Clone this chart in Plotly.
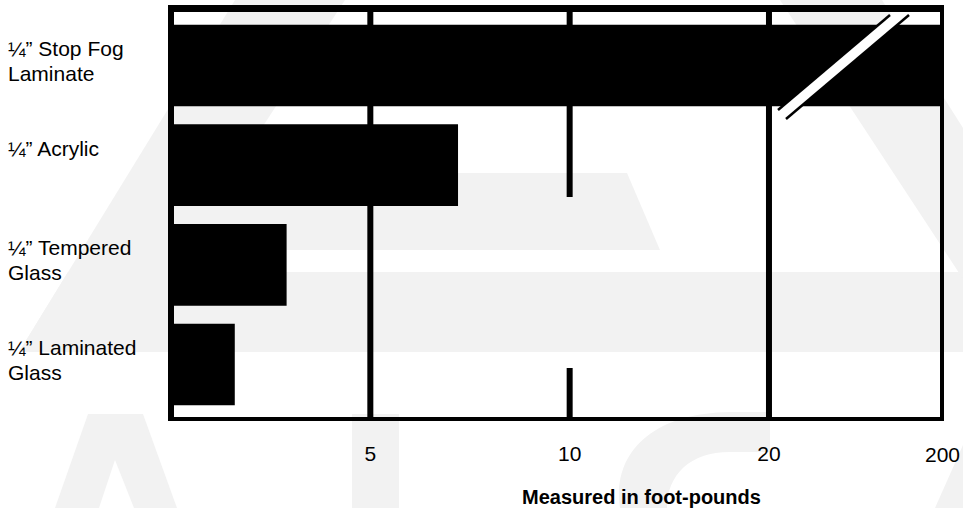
import numpy as np
import plotly.graph_objects as go

# ---------------- data ----------------
categories = ["¼” Stop Fog<br>Laminate", "¼” Acrylic", "¼” Tempered<br>Glass", "¼” Laminated<br>Glass"]
values = [200, 7.2, 2.9, 1.6]          # Stop Fog runs off the end of the (broken) scale
tick_values = [0, 5, 10, 20, 200]
tick_labels = ["", "5", "10", "20", "200"]
x_title = "Measured in foot-pounds"

# ---------------- broken (piecewise) scale ----------------
SEG_POS = [0, 1, 2, 3, 3.868]           # equal-width segments, last one shorter


def scale(v):
    return np.interp(v, tick_values, SEG_POS)


# ---------------- geometry ----------------
W, H = 963, 508
ML, MR, MT, MB = 171, 21, 9, 89
PL, PR, PT, PB = ML, W - MR, MT, H - MB
PW, PH = PR - PL, PB - PT
FONT = "Liberation Sans, Arial, Helvetica, sans-serif"
WM = "#f2f2f2"


def px(x):
    return (x - PL) / PW


def py(y):
    return (PB - y) / PH


def poly(points):
    return "M " + " L ".join(f"{px(x):.5f},{py(y):.5f}" for x, y in points) + " Z"


shapes = []
# faint watermark (logo) behind the chart
for pts in [
    [(235, 0), (345, 0), (116, 352), (19, 352)],
    [(230, 173), (627, 173), (660, 250), (175, 250)],
    [(68, 272), (963, 272), (963, 352), (19, 352)],
    [(780, 0), (882, 0), (963, 128), (963, 279)],
    [(88, 414), (143, 414), (177, 508), (55, 508)],
    [(352, 414), (399, 414), (399, 508), (352, 508)],
    [(963, 445), (963, 508), (935, 508)],
]:
    shapes.append(dict(type="path", xref="paper", yref="paper", path=poly(pts),
                       fillcolor=WM, line=dict(width=0), layer="below"))
shapes.append(dict(type="path", xref="paper", yref="paper",
                   path=poly([(115, 460), (134, 508), (99, 508)]),
                   fillcolor="white", line=dict(width=0), layer="below"))
s_path = (f"M {px(620):.5f},{py(508):.5f} "
          f"C {px(612):.5f},{py(455):.5f} {px(650):.5f},{py(413):.5f} {px(730):.5f},{py(412):.5f} "
          f"L {px(770):.5f},{py(412):.5f} L {px(770):.5f},{py(452):.5f} L {px(730):.5f},{py(452):.5f} "
          f"C {px(690):.5f},{py(452):.5f} {px(667):.5f},{py(475):.5f} {px(667):.5f},{py(508):.5f} Z")
shapes.append(dict(type="path", xref="paper", yref="paper", path=s_path,
                   fillcolor=WM, line=dict(width=0), layer="below"))

# vertical grid lines at 5, 10, 20 (the 10 line is interrupted)
for v in tick_values[1:4]:
    xp = float(scale(v))
    if v == 10:
        segs = [(-0.567, 1.32), (3.035, 3.547)]
    else:
        segs = [(-0.567, 3.547)]
    for y0, y1 in segs:
        shapes.append(dict(type="line", xref="x", yref="y", x0=xp, x1=xp, y0=y0, y1=y1,
                           line=dict(color="black", width=6), layer="below"))

# frame
for (x0, y0, x1, y1, w) in [(171, 5, 171, 421, 6), (168, 8.5, 944, 8.5, 7),
                            (942, 5, 942, 421, 4), (168, 419, 944, 419, 4)]:
    shapes.append(dict(type="line", xref="paper", yref="paper", x0=px(x0), y0=py(y0),
                       x1=px(x1), y1=py(y1), line=dict(color="black", width=w), layer="above"))

# axis-break marks across the off-scale bar
shapes.append(dict(type="path", xref="paper", yref="paper",
                   path=poly([(778, 110), (890, 15), (909, 15), (786, 119)]),
                   fillcolor="white", line=dict(width=0), layer="above"))
for (x0, y0, x1, y1) in [(778, 110, 890, 15), (786, 119, 909, 15)]:
    shapes.append(dict(type="line", xref="paper", yref="paper", x0=px(x0), y0=py(y0),
                       x1=px(x1), y1=py(y1), line=dict(color="black", width=2.5), layer="above"))

# ---------------- figure ----------------
fig = go.Figure(go.Bar(
    y=categories, x=scale(values), base=0, orientation="h", width=0.82,
    marker=dict(color="black", line=dict(width=0)),
    hovertext=[f"{v}" for v in values], hoverinfo="y+text",
))

annotations = []
for cat in categories:
    for j, line in enumerate(cat.split("<br>")):
        annotations.append(dict(xref="paper", yref="y", x=px(6), y=cat, text=line,
                                xanchor="left", yanchor="middle", showarrow=False,
                                yshift=17 - 25 * j, align="left",
                                font=dict(family=FONT, size=21, color="black")))
annotations.append(dict(xref="paper", yref="paper", x=px(641), y=py(497), text=x_title,
                        xanchor="center", yanchor="middle", showarrow=False,
                        font=dict(family=FONT, size=20, color="black", weight="bold")))
# last tick label (at the very end of the scale) drawn as an annotation
annotations.append(dict(xref="x", yref="paper", x=float(scale(tick_values[-1])), y=py(454),
                        text=tick_labels[-1], xanchor="center", yanchor="middle", showarrow=False,
                        font=dict(family=FONT, size=21, color="black")))

fig.update_layout(
    width=W, height=H,
    margin=dict(l=ML, r=MR, t=MT, b=MB, pad=0),
    paper_bgcolor="white", plot_bgcolor="rgba(0,0,0,0)",
    showlegend=False,
    xaxis=dict(range=[0, SEG_POS[-1]], tickvals=[float(scale(v)) for v in tick_values[1:4]],
               ticktext=tick_labels[1:4], showgrid=False, zeroline=False, showline=False,
               ticks="", ticklabelstandoff=20,
               tickfont=dict(family=FONT, size=21, color="black")),
    yaxis=dict(type="category", categoryorder="array", categoryarray=categories,
               range=[3.547, -0.567], showticklabels=False, showgrid=False,
               zeroline=False, showline=False),
    shapes=shapes,
    annotations=annotations,
)

fig.write_html(
    "out.html",
    config={"displayModeBar": False},
    post_script=("document.documentElement.style.overflow='hidden';"
                 "document.body.style.margin='0';document.body.style.overflow='hidden';"),
)
